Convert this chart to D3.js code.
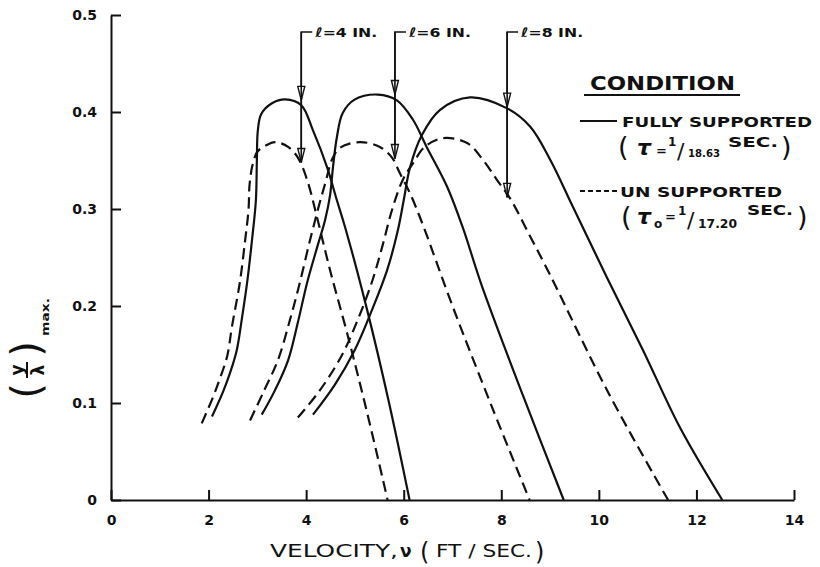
<!DOCTYPE html>
<html>
<head>
<meta charset="utf-8">
<script src="https://cdn.jsdelivr.net/npm/d3@7"></script>
<style>
  body { margin: 0; background: #fff; }
  svg text { font-family: "DejaVu Sans", sans-serif; fill: #111; }
</style>
</head>
<body>
<div id="chart"></div>
<script>
// (y/lambda)max versus velocity
var fully4 = [[2.07,.086],[2.30,.112],[2.44,.131],[2.58,.155],[2.68,.186],[2.79,.224],[2.89,.268],[2.97,.309],[2.99,.35],[3.01,.381],[3.08,.398],[3.3,.409],[3.57,.413],[3.9,.407],[4.14,.381],[4.43,.343],[4.63,.309],[4.8,.281],[5.25,.196],[5.7,.1],[6.12,0]];
var unsup4 = [[1.86,.079],[2.09,.106],[2.23,.125],[2.38,.148],[2.48,.179],[2.64,.224],[2.75,.268],[2.82,.3],[2.84,.325],[2.9,.345],[3.0,.359],[3.16,.365],[3.36,.369],[3.63,.364],[3.83,.353],[4.02,.33],[4.22,.292],[4.5,.235],[4.84,.172],[5.25,.09],[5.67,0]];
var fully6 = [[3.09,.088],[3.36,.113],[3.63,.144],[3.83,.183],[4.02,.224],[4.24,.263],[4.39,.289],[4.49,.314],[4.55,.343],[4.63,.374],[4.75,.399],[5.0,.413],[5.47,.418],[5.86,.412],[6.19,.392],[6.47,.364],[6.89,.323],[7.21,.281],[7.6,.221],[8.45,.107],[9.28,0]];
var unsup6 = [[2.85,.082],[3.14,.113],[3.42,.144],[3.67,.186],[3.87,.224],[4.08,.268],[4.26,.303],[4.4,.328],[4.53,.351],[4.69,.363],[5.1,.369],[5.51,.364],[5.76,.353],[5.92,.337],[6.13,.316],[6.39,.284],[7.0,.2],[7.8,.097],[8.58,0]];
var fully8 = [[4.14,.088],[4.59,.119],[5.0,.155],[5.35,.196],[5.66,.237],[5.88,.278],[6.0,.309],[6.13,.343],[6.37,.376],[6.74,.402],[7.36,.415],[8.11,.404],[8.59,.385],[9.0,.351],[9.47,.302],[10.16,.23],[10.9,.155],[11.66,.075],[12.53,0]];
var unsup8 = [[3.83,.085],[4.28,.113],[4.73,.149],[5.06,.186],[5.35,.225],[5.57,.263],[5.76,.299],[5.98,.33],[6.19,.347],[6.43,.364],[6.8,.373],[7.3,.368],[7.62,.351],[7.91,.33],[8.18,.311],[8.59,.272],[9.0,.232],[10.2,.11],[11.42,0]];

var xTicks = [0, 2, 4, 6, 8, 10, 12, 14];
var yTicks = [0, 0.1, 0.2, 0.3, 0.4, 0.5];

// l = 4, 6, 8 in. arrows
var arrowLabels = ["\u2113=4 IN.", "\u2113=6 IN.", "\u2113=8 IN."];
var arrowV = [3.9, 5.82, 8.12];
var arrowFullyY = [0.412, 0.418, 0.405];
var arrowUnsupY = [0.348, 0.352, 0.312];

var width = 820, height = 567;

var svg = d3.select("#chart").append("svg")
    .attr("width", width)
    .attr("height", height);

var x = d3.scaleLinear().domain([0, 14]).range([111, 794]);
var y = d3.scaleLinear().domain([0, 0.5]).range([500, 15]);

// axes, ticks pointing inward
var xAxis = svg.append("g")
    .attr("transform", "translate(0," + y(0) + ")")
    .call(d3.axisBottom(x).tickValues(xTicks).tickSizeInner(-10).tickSizeOuter(0).tickPadding(15)
        .tickFormat(function(d){ return d; }));
var yAxis = svg.append("g")
    .attr("transform", "translate(" + x(0) + ",0)")
    .call(d3.axisLeft(y).tickValues(yTicks).tickSizeInner(-10).tickSizeOuter(0).tickPadding(14)
        .tickFormat(function(d){ return d === 0 ? "0" : d3.format(".1f")(d); }));

[xAxis, yAxis].forEach(function(ax){
    ax.select(".domain").attr("stroke", "#111").attr("stroke-width", 2);
    ax.selectAll(".tick line").attr("stroke", "#111").attr("stroke-width", 2);
    ax.selectAll(".tick text")
        .style("font-family", "DejaVu Sans")
        .style("font-size", "14px")
        .style("font-weight", "bold")
        .attr("fill", "#111");
});

var line = d3.line()
    .x(function(d){ return x(d[0]); })
    .y(function(d){ return y(d[1]); })
    .curve(d3.curveCatmullRom.alpha(0.5));

var curves = [
    {pts: fully4, dash: null}, {pts: unsup4, dash: "11,6"},
    {pts: fully6, dash: null}, {pts: unsup6, dash: "11,6"},
    {pts: fully8, dash: null}, {pts: unsup8, dash: "11,6"}
];

svg.selectAll(".curve")
    .data(curves)
    .enter()
    .append("path")
    .attr("class", "curve")
    .attr("d", function(d){ return line(d.pts); })
    .attr("fill", "none")
    .attr("stroke", "#111")
    .attr("stroke-width", 2.2)
    .attr("stroke-dasharray", function(d){ return d.dash; });

// arrows
var topY = 32;
var arrows = svg.selectAll(".arrow")
    .data(arrowLabels)
    .enter()
    .append("g")
    .attr("class", "arrow");

arrows.append("path")
    .attr("d", function(d, i){
        var ax = x(arrowV[i]);
        return "M" + (ax + 11) + "," + topY + "H" + ax + "V" + y(arrowUnsupY[i]);
    })
    .attr("fill", "none")
    .attr("stroke", "#111")
    .attr("stroke-width", 1.6);

function head(ax, tip){
    return "M" + (ax - 3.5) + "," + (tip - 14) + "L" + ax + "," + tip + "L" + (ax + 3.5) + "," + (tip - 14) + "Z";
}
arrows.append("path")
    .attr("d", function(d, i){ return head(x(arrowV[i]), y(arrowFullyY[i])); })
    .attr("fill", "#fff").attr("stroke", "#111").attr("stroke-width", 1.4);
arrows.append("path")
    .attr("d", function(d, i){ return head(x(arrowV[i]), y(arrowUnsupY[i])); })
    .attr("fill", "#fff").attr("stroke", "#111").attr("stroke-width", 1.4);
arrows.append("line")
    .attr("x1", function(d, i){ return x(arrowV[i]); })
    .attr("x2", function(d, i){ return x(arrowV[i]); })
    .attr("y1", topY)
    .attr("y2", function(d, i){ return y(arrowUnsupY[i]); })
    .attr("stroke", "#111").attr("stroke-width", 1.6);

arrows.append("text")
    .attr("x", function(d, i){ return x(arrowV[i]) + 14; })
    .attr("y", topY + 5)
    .attr("textLength", 62)
    .attr("lengthAdjust", "spacingAndGlyphs")
    .style("font-size", "13px")
    .style("font-weight", "bold")
    .text(function(d){ return d; });

// legend
var lg = svg.append("g");
lg.append("text").attr("x", 590).attr("y", 90)
    .attr("textLength", 145).attr("lengthAdjust", "spacingAndGlyphs")
    .style("font-size", "20px").style("font-weight", "bold").text("CONDITION");
lg.append("line").attr("x1", 584).attr("x2", 740).attr("y1", 95).attr("y2", 95)
    .attr("stroke", "#111").attr("stroke-width", 2);

lg.append("line").attr("x1", 580).attr("x2", 617).attr("y1", 121).attr("y2", 121)
    .attr("stroke", "#111").attr("stroke-width", 1.8);
lg.append("text").attr("x", 622).attr("y", 127)
    .attr("textLength", 190).attr("lengthAdjust", "spacingAndGlyphs")
    .style("font-size", "14px").style("font-weight", "bold").text("FULLY  SUPPORTED");

lg.append("text").attr("x", 618).attr("y", 156).style("font-size", "27px").text("(");
lg.append("text").attr("x", 637).attr("y", 155).style("font-size", "22px").style("font-style", "italic").style("font-weight", "bold").text("\u03C4");
lg.append("text").attr("x", 656).attr("y", 155).style("font-size", "13px").style("font-weight", "bold").text("=");
lg.append("text").attr("x", 668).attr("y", 146).style("font-size", "12px").style("font-weight", "bold").text("1");
lg.append("text").attr("x", 677).attr("y", 159).style("font-size", "22px").text("/");
lg.append("text").attr("x", 688).attr("y", 157).attr("textLength", 32).attr("lengthAdjust", "spacingAndGlyphs")
    .style("font-size", "11px").style("font-weight", "bold").text("18.63");
lg.append("text").attr("x", 728).attr("y", 147).attr("textLength", 50).attr("lengthAdjust", "spacingAndGlyphs")
    .style("font-size", "14px").style("font-weight", "bold").text("SEC.");
lg.append("text").attr("x", 781).attr("y", 156).style("font-size", "27px").text(")");

lg.append("line").attr("x1", 580).attr("x2", 617).attr("y1", 191).attr("y2", 191)
    .attr("stroke", "#111").attr("stroke-width", 1.8).attr("stroke-dasharray", "5,3");
lg.append("text").attr("x", 620).attr("y", 197)
    .attr("textLength", 162).attr("lengthAdjust", "spacingAndGlyphs")
    .style("font-size", "14px").style("font-weight", "bold").text("UN SUPPORTED");

lg.append("text").attr("x", 621).attr("y", 226).style("font-size", "27px").text("(");
lg.append("text").attr("x", 637).attr("y", 224).style("font-size", "22px").style("font-style", "italic").style("font-weight", "bold").text("\u03C4");
lg.append("text").attr("x", 654).attr("y", 228).style("font-size", "12px").style("font-weight", "bold").text("o");
lg.append("text").attr("x", 665).attr("y", 221).style("font-size", "13px").style("font-weight", "bold").text("=");
lg.append("text").attr("x", 678).attr("y", 215).style("font-size", "12px").style("font-weight", "bold").text("1");
lg.append("text").attr("x", 687).attr("y", 228).style("font-size", "22px").text("/");
lg.append("text").attr("x", 698).attr("y", 228).attr("textLength", 39).attr("lengthAdjust", "spacingAndGlyphs")
    .style("font-size", "12px").style("font-weight", "bold").text("17.20");
lg.append("text").attr("x", 747).attr("y", 215).attr("textLength", 46).attr("lengthAdjust", "spacingAndGlyphs")
    .style("font-size", "14px").style("font-weight", "bold").text("SEC.");
lg.append("text").attr("x", 797).attr("y", 226).style("font-size", "27px").text(")");

// x axis title
var xt = svg.append("g");
xt.append("text").attr("x", 270).attr("y", 557).attr("textLength", 128).attr("lengthAdjust", "spacingAndGlyphs")
    .style("font-size", "17px").text("VELOCITY,");
xt.append("text").attr("x", 400).attr("y", 557).style("font-size", "17px").style("font-weight", "bold").text("\u03BD");
xt.append("text").attr("x", 420).attr("y", 560).style("font-size", "24px").text("(");
xt.append("text").attr("x", 436).attr("y", 557).attr("textLength", 96).attr("lengthAdjust", "spacingAndGlyphs")
    .style("font-size", "17px").text("FT / SEC.");
xt.append("text").attr("x", 535).attr("y", 560).style("font-size", "24px").text(")");

// y axis title, rotated
var yt = svg.append("g").attr("transform", "translate(28,370) rotate(-90)");
yt.append("text").attr("x", -21).attr("y", 12).attr("text-anchor", "middle").style("font-size", "40px").text("(");
yt.append("text").attr("x", 21).attr("y", 12).attr("text-anchor", "middle").style("font-size", "40px").text(")");
yt.append("text").attr("x", 0).attr("y", -5).attr("text-anchor", "middle").style("font-size", "17px").style("font-weight", "bold").text("y");
yt.append("line").attr("x1", -8).attr("x2", 8).attr("y1", -1).attr("y2", -1).attr("stroke", "#111").attr("stroke-width", 2);
yt.append("text").attr("x", 0).attr("y", 16).attr("text-anchor", "middle").style("font-size", "17px").style("font-weight", "bold").text("\u03BB");
yt.append("text").attr("x", 34).attr("y", 21).attr("textLength", 38).attr("lengthAdjust", "spacingAndGlyphs")
    .style("font-size", "11px").style("font-weight", "bold").text("max.");
</script>
</body>
</html>
